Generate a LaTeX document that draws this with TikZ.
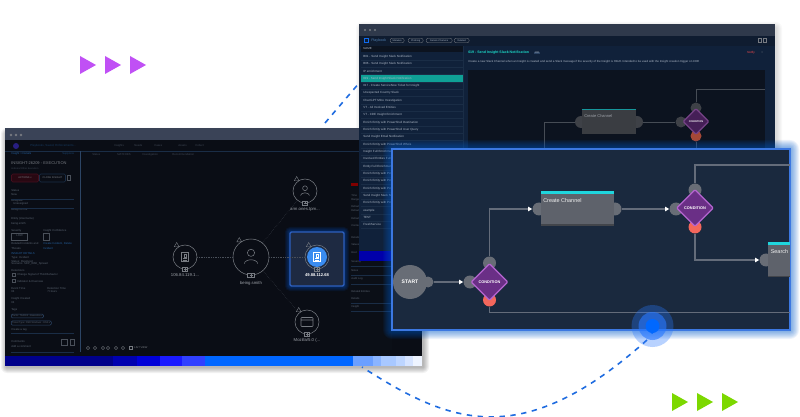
\documentclass[tikz,border=0pt]{standalone}
\usepackage{fontspec}
\setmainfont{Liberation Sans}
\usetikzlibrary{shapes.geometric,arrows.meta,calc}
\definecolor{lbody}{HTML}{0A0D15}
\definecolor{ltitle}{HTML}{3A4357}
\definecolor{ttitle}{HTML}{2F394B}
\definecolor{thead}{HTML}{0F1C30}
\definecolor{tlist}{HTML}{10213A}
\definecolor{trule}{HTML}{1A2D46}
\definecolor{trulel}{HTML}{2C4464}
\definecolor{tcanvas}{HTML}{0C131F}
\definecolor{panel}{HTML}{1A293E}
\definecolor{portg}{HTML}{686D76}
\definecolor{boxg}{HTML}{5E626B}
\definecolor{portr}{HTML}{F4675C}
\definecolor{cond}{HTML}{6A2F86}
\definecolor{condl}{HTML}{B565D0}
\definecolor{teal}{HTML}{1FD6DE}
\definecolor{tealrow}{HTML}{0FA096}
\definecolor{listtxt}{HTML}{AEB8C6}
\definecolor{mute}{HTML}{59626F}
\definecolor{dimtxt}{HTML}{3E4653}
\definecolor{dimline}{HTML}{4A505A}
\definecolor{ringc}{HTML}{777B82}
\definecolor{glabc}{HTML}{9EA2A9}
\definecolor{linkb}{HTML}{245F9C}
\definecolor{flow}{HTML}{646C7A}
\definecolor{dashb}{HTML}{1F6CE0}
\def\px{0.75pt}
\tikzset{
  x=0.75pt,y=-0.75pt,
  txt/.style={inner sep=0,font=\fontsize{#1}{#1}\selectfont,anchor=west},
  txt/.default=3,
  rowtxt/.style={txt=2.25,text=listtxt},
  sidetxt/.style={txt=2.1,text=mute},
  pill/.style={draw=#1,rounded corners=1.5pt,line width=.25pt,inner sep=0,anchor=west,font=\fontsize{1.8}{1.8}\selectfont,text=listtxt},
  port/.style={circle,fill=portg,inner sep=0,minimum size=#1*\px},
  redport/.style={circle,fill=portr,inner sep=0,minimum size=#1*\px},
  flowline/.style={draw=flow,line width=.8pt},
  flowarrow/.style={flowline,-{Triangle[width=3.2pt,length=3pt,color=white]}},
  thinrule/.style={draw=#1,line width=.5pt},
  condbox/.style={diamond,aspect=1,draw=condl,fill=cond,line width=1pt,inner sep=0,minimum size=#1*\px,rounded corners=.8pt,text=white},
  ring/.style={circle,draw=#1,line width=.4pt,inner sep=0},
  gedge/.style={draw=dimline,line width=.3pt,densely dotted},
  dashline/.style={draw=dashb,line width=1.2pt,dash pattern=on 4pt off 4.2pt},
  glab/.style={inner sep=0,font=\fontsize{3.2}{3.2}\selectfont,text=#1},
}
% soft halo of a rectangle
\newcommand\halo[7]{\foreach \hh in {1,...,#5}{\fill[#6,opacity=#7,rounded corners=\hh*0.75pt] ({#1-\hh},{#2-\hh}) rectangle ({#3+\hh},{#4+\hh});}}
% graph node: name,x,y,radius,icon
\newcommand\gnode[5]{%
  \begin{scope}[shift={(#2,#3)}]
    \node[ring=ringc,minimum size=2*#4*\px] (#1) at (0,0) {};
    \draw[ringc,line width=.3pt] (235:{#4+2.5}) ++(-2.4,1.6) -- ++(4.8,0) -- ++(-2.4,-4.2) -- cycle;
    \fill[#5] ({-#4*0.2-.5},{#4-2.5}) rectangle ({#4*0.2+.5},{#4+2.5});
    \draw[ringc,line width=.3pt] ({-#4*0.2},{#4-2}) rectangle ({#4*0.2},{#4+2});
    \draw[ringc,line width=.25pt] (-1.5,#4) -- (1.5,#4) (0,{#4-1.5}) -- (0,{#4+1.5});
  \end{scope}}
\newcommand\personicon[4]{\begin{scope}[shift={(#1,#2)}]\draw[#4,line width=.4pt] (0,{-#3*.35}) circle ({#3*.3}) (-{#3*.55},{#3*.55}) arc (180:360:{#3*.55} and {#3*.32});\end{scope}}
\newcommand\docicon[3]{\begin{scope}[shift={(#1,#2)}]\draw[#3,line width=.4pt] (-3.5,-4.5) rectangle (3.5,4.5) (-2,1.5) -- (2,1.5) (-2,3) -- (2,3); \draw[#3,line width=.4pt] (-1,-2.5) rectangle (1.5,0);\end{scope}}
\begin{document}
\begin{tikzpicture}
\path[use as bounding box] (0,0) rectangle (800,417);
\fill[white] (0,0) rectangle (800,417);

% decorative triangles
\foreach \xx in {80,105,130}{\fill[fill={rgb,255:red,192;green,80;blue,245}] (\xx,56) -- ({\xx+16},65) -- (\xx,74) -- cycle;}
\foreach \xx in {672,697,722}{\fill[fill={rgb,255:red,124;green,216;blue,0}] (\xx,393) -- ({\xx+16},402) -- (\xx,411) -- cycle;}

% shadows
\halo{7}{134}{423}{367}{6}{black}{0.05}
\halo{362}{28}{776}{200}{6}{black}{0.025}

% ------- left window
\fill[lbody] (5,128) rectangle (422,356);
\fill[ltitle] (5,128) rectangle (422,140);
\foreach \xx in {11,16,21}{\fill[ringc] (\xx,135) circle (1.3);}
\draw[thinrule=trule] (5,151) -- (422,151);
% colour strip
\foreach \a/\b/\c in {5/113/00008A,113/137/0000B0,137/160/0000D8,160/182/1A1AFF,182/205/3040FF,205/353/0066FF,353/373/6A9FFF,373/381/8AB4FF,381/396/A8C8FF,396/405/BDD5FF,405/413/D6E4FF,413/422/EEF4FF}{
  \definecolor{stripc}{HTML}{\c}\fill[stripc] (\a,356) rectangle (\b,365.5);}
\draw[trulel,line width=.6pt] (80,151) -- (80,352);

% left top bar
\fill[fill={rgb,255:red,40;green,30;blue,130}] (16,146) circle (3);
\node[txt=2.2,text=linkb!60!black] (searchbar) at (30,146) {Playbooks, Saved, Enforcements...};
\foreach \xx/\tt [count=\n] in {114/Insights,134/Needs,154/Cases,178/Assets,195/Collect}{\node[txt=2.1,text=dimtxt] (top\n) at (\xx,146) {\tt};}
\foreach \xx/\tt [count=\n] in {92/Status,117/MATCHES,142/Investigation,172/Recommendation}{\node[txt=2.1,text=dimtxt] (tab\n) at (\xx,155) {\tt};}

% left sidebar
\node[txt=2.1,text=linkb] (crumb) at (11,154) {Insight  >  Details};
\node[txt=2.1,text=linkb!70!black] (suppress) at (62,154) {Suppress};
\node[txt=3,text=ringc] (insighttitle) at (11,163.5) {INSIGHT-26209 - EXECUTION};
\node[txt=1.8,text=dimtxt] (insightsub) at (11,168.5) {Indicator/Other Execution};
\node[draw={rgb,255:red,70;green,15;blue,30},fill={rgb,255:red,40;green,8;blue,18},rounded corners=1pt,inner sep=0,minimum width=27*\px,minimum height=8*\px,font=\fontsize{1.9}{1.9}\selectfont,text=ringc] (actions) at (25,178) {ACTIONS  v};
\node[draw=trule,rounded corners=1pt,inner sep=0,minimum width=26*\px,minimum height=8*\px,font=\fontsize{1.9}{1.9}\selectfont,text=ringc] (closebtn) at (52.5,178) {CLOSE INSIGHT};
\draw[dimline,line width=.3pt] (67.5,175.5) rectangle (70.5,180);
\foreach \xx/\yy/\tt [count=\n] in {
 11/191/Status,11/195/New,11/201/Assignee,13/204/Unassigned,11/210/Assign to me,11/219/Entity (Username),11/224/being.smith,
 11/231/Severity,43/231/Insight Confidence,16/236/LOW,11/244/Related Incidents and,11/248/Threats,
 11/258/Type: Incident,11/261/Status: Resolved,11/264/Scenario: SDP\_WMI\_Spread,11/270/Detections,
 17/275/Change Signal of Third Behavior,17/281/Indicator \& Overview,11/288/Event Time,47/288/Detection Time,11/292/04/29/2023 7:00:43 AM,47/292/7 Hours,
 11/299/Insight Created,11/303/04/29/2023 7:00:43 AM,11/310/Tags,11/330/Create a tag,11/342/Comments,11/346/Add a comment}{
  \node[sidetxt] (side\n) at (\xx,\yy) {\tt};}
\node[txt=2.1,text=linkb] (sidelink1) at (43,244) {Create Incident, Delete};
\node[txt=2.1,text=linkb] (sidelink2) at (43,248) {Incident};
\node[txt=2.1,text=linkb] (sidelink3) at (11,254) {INSIGHT DETAILS};
\foreach \yy in {199,208,333,352}{\draw[thinrule=trule] (11,\yy) -- (74,\yy);}
\draw[dimline,line width=.3pt] (11,233.5) rectangle (27,240) (43,233.5) rectangle (49,240);
\draw[dimline,line width=.3pt] (12,273.5) rectangle (15,276.5) (12,279.5) rectangle (15,282.5);
\node[draw=trulel,rounded corners=.8pt,inner sep=.7pt,font=\fontsize{1.8}{1.8}\selectfont,text=mute,anchor=west] (tag1) at (11,316) {Tactic: TA0002 - Execution  x};
\node[draw=trulel,rounded corners=.8pt,inner sep=.7pt,font=\fontsize{1.8}{1.8}\selectfont,text=mute,anchor=west] (tag2) at (11,323) {Ticket Type: PBR Windows - DNS  x};
\draw[dimline,line width=.3pt] (61,339) rectangle (67,345) (70,339) rectangle (74,345);

% toolbar
\foreach \xx in {88,95,103,108,116,123}{\draw[ringc,line width=.3pt] (\xx,348) circle (1.7);}
\draw[ringc,line width=.3pt] (129,346.5) rectangle (132,349.5);
\node[txt=2,text=ringc] (listview) at (134,348) {LIST VIEW};

% graph
\halo{290}{232}{344}{286}{5}{blue!60!cyan}{0.08}
\fill[fill={rgb,255:red,30;green,42;blue,66},draw={rgb,255:red,45;green,95;blue,190},line width=1pt,rounded corners=1pt] (290,232) rectangle (344,286);
\gnode{nip}{185}{257}{12}{lbody}
\gnode{nuser}{251}{257}{18}{lbody}
\gnode{ntop}{305}{191}{12}{lbody}
\node[circle,inner sep=0,minimum size=20*\px,fill={rgb,255:red,58;green,140;blue,240}] (nselfill) at (317,257) {};
\gnode{nsel}{317}{257}{12}{panel}
\gnode{nmoz}{307}{322}{12}{lbody}
\docicon{185}{257}{ringc}
\personicon{251}{257}{12}{ringc}
\personicon{305}{191}{8}{ringc}
\docicon{317}{257}{white}
\draw[ringc,line width=.4pt,rounded corners=.5pt] (301,317.5) rectangle (313,326.5) (301,320) -- (313,320);
\draw[gedge] (nip) -- (nuser);
\draw[gedge] (nuser) -- (ntop);
\draw[gedge] (nuser) -- (nsel);
\draw[gedge] (nuser) -- (nmoz);
\node[glab=glabc] (lip) at (185,275) {106.84.119.1...};
\node[glab=glabc] (luser) at (251,283.5) {being.smith};
\node[glab=glabc] (ltop) at (305,210) {arm.ones.tpm...};
\node[glab=white,font=\bfseries\fontsize{3.1}{3.1}\selectfont] (lsel) at (317,275) {49.88.112.68};
\node[glab=glabc] (lmoz) at (307,340) {Mozilla/5.0 (...};

% left window's right panel
\fill[fill={rgb,255:red,11;green,15;blue,23}] (350,152) rectangle (392,350);
\fill[red!50!black] (351,183) rectangle (358,186);
\foreach \yy/\tt [count=\n] in {196/Time,200/Range,207/Default,211/Default,219/Default,226/Context,238/Details,245/Values,253/Host,262/Severity,271/Notes,279/Audit Log,292/Related Entities,299/Details,307/Insight}{
  \node[txt=2,text=mute] (rp\n) at (351,\yy) {\tt};}
\foreach \yy in {266,275,284,303,311}{\draw[thinrule=trule] (351,\yy) -- (392,\yy);}

% dashed link behind the windows
\coordinate (dashA) at (325,123);
\coordinate (dashB) at (372,68);
\draw[dashline] (dashA) -- (dashB);

% ------- top window
\fill[tlist] (359,24) rectangle (775,251);
\fill[ttitle] (359,24) rectangle (775,36);
\foreach \xx in {365,370,375}{\fill[ringc] (\xx,30) circle (1.1);}
\fill[thead] (359,36) rectangle (775,46);
\draw[teal!50!blue,line width=.3pt] (364,38) rectangle (368.5,42.5);
\node[txt=2.7,text=linkb!80!white] (pbtitle) at (371,40.5) {Playbook};
\foreach \xx/\ww/\tt [count=\n] in {390/14/Malware,408/15/Phishing,426/26/Denial of Service,454/15/Deleted}{
  \node[pill=ringc,minimum width=\ww*\px,minimum height=4.5*\px] (pill\n) at (\xx,40.5) {\tt};}
\draw[ringc,line width=.3pt] (758,38.5) rectangle (761,42) (763.5,38.5) rectangle (766,42);
\fill[tcanvas] (361,46) rectangle (463,52);
\node[txt=2.2,text=listtxt] (namehead) at (363,48.8) {NAME};
\foreach \tt [count=\n] in {B01 - Send Insight Slack Notification,B06 - Send Insight Slack Notification,IP enrichment,019 - Send Insight Slack Notification,017 - Create ServiceNow Ticket for Insight,Unexpected Country Slack,Chat GPT Mitre Investigation,VT - All Involved Entities,VT - CDE Insight Enrichment,Enrich Entity with PowerShell Destination,Enrich Entity with PowerShell User Query,Send Insight Email Notification,Enrich Entity with PowerShell Whois,Insight Full Enrichment,Involved Entities Full Enrichment,Entity Full Enrichment,Enrich Entity with PowerShell Hash,Enrich Entity with PowerShell URL,Enrich Entity with PowerShell IP,Send Insight Slack Notification,Enrich Entity with PowerShell Host,example,TEST,FreshService}{
  \pgfmathsetmacro\ry{56.3+(\n-1)*7.33}
  \ifnum\n=4 \fill[tealrow] (361,{\ry-3.6}) rectangle (463,{\ry+3.7});\fi
  \draw[thinrule=trule] (361,{\ry+3.7}) -- (463,{\ry+3.7});
  \node[rowtxt] (row\n) at (363,\ry) {\tt};
}
\draw[thinrule=trule] (463,46) -- (463,251);
\node[txt=2.65,text=teal!90!green] (pbname) at (468,53) {\bfseries 019 - Send Insight Slack Notification};
\node[txt=2,text=listtxt,fill=trulel,inner xsep=.7pt] (pbbadge) at (533.5,53) {100};
\node[txt=2.17,text=listtxt] (pbdesc) at (468,62) {Create a new Slack Channel when an Insight is created and send a Slack message if the severity of the Insight is HIGH. Intended to be used with the Insight creation trigger on CDE};
\node[txt=2.2,text=red!70!white] (notify) at (747,53) {Notify};
\node[txt=2.2,text=ringc] (notifymore) at (761,53) {>};
\fill[tcanvas] (468,70) rectangle (765,251);

% faint flow in the top window
\node[port=12,fill=portg!60!black] (dpin) at (581,122) {};
\node[port=12,fill=portg!60!black] (dpout) at (637,122) {};
\node[inner sep=0,minimum width=54*\px,minimum height=25*\px,fill={rgb,255:red,58;green,61;blue,66}] (dbox) at (609,122) {};
\fill[teal!70!black] (582,109) rectangle (636,110.5);
\node[txt=3,text=glabc] (dboxt) at (584,116) {Create Channel};
\node[port=11,fill=portg!60!black] (dcin) at (681,122) {};
\node[port=11,fill=portg!60!black] (dctop) at (696,108) {};
\node[redport=11,fill={rgb,255:red,165;green,72;blue,55}] (dcbot) at (696,136) {};
\node[condbox=26,draw=condl!65!black,fill=cond!65!black,font=\bfseries\fontsize{1.9}{1.9}\selectfont] (dcond) at (696,121.5) {CONDITION};
\coordinate (dl1) at (544,122);
\coordinate (dl2) at (544,160);
\coordinate (dtopr) at (765,89.5);
\coordinate (dbotd) at (696,160);
\draw[draw=flow!70!black,line width=.5pt] (dl2) -- (dl1) -- (dpin);
\draw[draw=flow!70!black,line width=.5pt] (dpout) -- (dcin);
\draw[draw=flow!70!black,line width=.5pt] (dctop) |- (dtopr);
\draw[draw=flow!70!black,line width=.5pt] (dcbot) -- (dbotd);

% navy strip of the top window
\fill[fill={rgb,255:red,0;green,0;blue,170}] (359,251) rectangle (392,261);

% ------- enlarged panel
\halo{392}{149}{790}{330}{9}{blue!55!cyan!80!black}{0.07}
\fill[panel,draw={rgb,255:red,60;green,120;blue,225},line width=.8pt] (392,149) rectangle (790,330);
\node[circle,fill=portg,inner sep=0,minimum size=34*\px,text=white,font=\bfseries\fontsize{3.8}{3.8}\selectfont] (start) at (410,282) {START};
\node[port=11] (sout) at (428,282) {};
\node[port=13] (c1in) at (470,282) {};
\node[port=13] (c1top) at (489.5,263) {};
\node[redport=13] (c1bot) at (489.5,300) {};
\node[condbox=37,font=\bfseries\fontsize{2.9}{2.9}\selectfont] (c1) at (489.5,282) {CONDITION};
\node[port=13] (ccin) at (539,209) {};
\node[port=13] (ccout) at (615,209) {};
\node[inner sep=0,minimum width=73*\px,minimum height=34*\px,fill=boxg] (ccbox) at (577.5,208.5) {};
\fill[teal] (541,191.5) rectangle (614,194.5);
\fill[boxg!70!black] (541,224) rectangle (614,226);
\node[txt=4.1,text=white!90!gray] (cctext) at (543,200.5) {Create Channel};
\node[port=13] (c2in) at (676,209) {};
\node[port=13] (c2top) at (695,190) {};
\node[redport=13] (c2bot) at (695,227) {};
\node[condbox=37,font=\bfseries\fontsize{2.9}{2.9}\selectfont] (c2) at (695,208) {CONDITION};
\node[port=13] (sin) at (766,260) {};
\fill[boxg] (768,243) rectangle (790,277);
\fill[teal] (768,242.5) rectangle (790,245.5);
\fill[boxg!70!black] (768,275.5) rectangle (790,277);
\node[txt=4.1,text=white!90!gray] (stext) at (770.5,251.5) {Search};
\coordinate (c1up) at (489.5,209);
\coordinate (c1down) at (489.5,312.5);
\coordinate (c1right) at (789.5,312.5);
\coordinate (c2up) at (695,165);
\coordinate (c2right) at (789.5,165);
\coordinate (c2down) at (695,260);
\draw[flowarrow] (sout) -- (c1in);
\draw[flowarrow] (c1top) -- (c1up) -- (ccin);
\draw[flowline] (c1bot) -- (c1down) -- (c1right);
\draw[flowarrow] (ccout) -- (c2in);
\draw[flowline] (c2top) -- (c2up) -- (c2right);
\draw[flowarrow] (c2bot) -- (c2down) -- (sin);

% beacon and dashed arc
\coordinate (leftend) at (362,367);
\coordinate (beaconfoot) at (647,340);
\draw[dashline] (beaconfoot) .. controls (521,453) and (449,423) .. (leftend);
\node[circle,fill={rgb,255:red,40;green,120;blue,255},opacity=.33,inner sep=0,minimum size=42*\px] (beaconout) at (652.5,326) {};
\node[circle,fill={rgb,255:red,40;green,120;blue,255},opacity=.62,inner sep=0,minimum size=28*\px] (beaconmid) at (652.5,326) {};
\node[circle,fill={rgb,255:red,0;green,104;blue,255},inner sep=0,minimum size=14*\px] (beacon) at (652.5,326) {};
\fill[fill={rgb,255:red,0;green,104;blue,255}] (649.5,331) -- (655.5,331) -- (652,334) -- cycle;
\end{tikzpicture}
\end{document}
